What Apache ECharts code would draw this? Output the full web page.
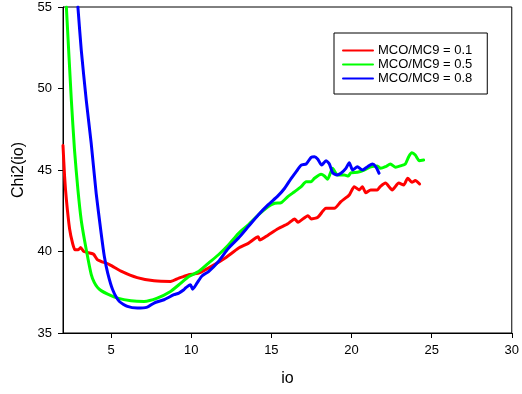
<!DOCTYPE html>
<html>
<head>
<meta charset="utf-8">
<script src="https://cdn.jsdelivr.net/npm/echarts@6/dist/echarts.min.js"></script>
<style>html,body{margin:0;padding:0;background:#fff}#c{width:522px;height:394px}</style>
</head>
<body>
<div id="c"></div>
<script>
const seriesNames = ['MCO/MC9 = 0.1', 'MCO/MC9 = 0.5', 'MCO/MC9 = 0.8'];
const xTicks = [5, 10, 15, 20, 25, 30];
const yTicks = [35, 40, 45, 50, 55];

const redIo  = [2.0, 2.1, 2.21, 2.41, 2.6, 2.75, 2.95, 3.1, 3.3, 3.9, 4.15, 4.9, 5.62, 6.63, 7.68, 8.71, 9.23, 9.54, 9.85, 10.46, 11.29, 12.12, 12.94, 13.56, 14.18, 14.28, 14.79, 15.41, 16.03, 16.45, 16.66, 17.28, 17.48, 17.9, 18.41, 18.93, 19.34, 19.86, 20.17, 20.48, 20.68, 20.89, 21.2, 21.61, 21.81, 22.12, 22.54, 22.95, 23.26, 23.51, 23.77, 23.98, 24.25];
const redChi = [46.5, 44.6, 43.2, 41.4, 40.5, 40.1, 40.1, 40.24, 40.0, 39.84, 39.5, 39.2, 38.8, 38.4, 38.2, 38.16, 38.37, 38.47, 38.57, 38.67, 39.1, 39.6, 40.2, 40.5, 40.9, 40.7, 41.0, 41.4, 41.7, 42.0, 41.8, 42.2, 42.0, 42.1, 42.65, 42.65, 43.06, 43.47, 43.98, 43.78, 43.98, 43.6, 43.78, 43.78, 44.0, 44.2, 43.78, 44.2, 44.08, 44.5, 44.25, 44.35, 44.14];

const greenIo  = [2.21, 2.52, 2.72, 2.93, 3.14, 3.34, 3.55, 3.76, 3.95, 4.15, 4.38, 4.79, 5.41, 6.24, 7.06, 7.88, 8.71, 9.23, 9.85, 10.46, 11.08, 11.7, 12.32, 12.94, 13.56, 14.18, 14.79, 15.21, 15.62, 16.03, 16.45, 16.86, 17.17, 17.48, 17.69, 18.1, 18.31, 18.51, 18.82, 19.13, 19.55, 19.8, 19.96, 20.37, 20.79, 21.2, 21.61, 21.81, 22.12, 22.43, 22.75, 23.05, 23.36, 23.57, 23.77, 23.98, 24.23, 24.5];
const greenChi = [55, 49.3, 46.2, 43.8, 41.9, 40.7, 39.6, 38.6, 38.1, 37.8, 37.6, 37.39, 37.14, 36.98, 36.94, 37.14, 37.55, 37.96, 38.47, 38.77, 39.29, 39.8, 40.4, 41.1, 41.63, 42.24, 42.75, 42.96, 43.0, 43.37, 43.67, 43.98, 44.28, 44.28, 44.49, 44.74, 44.63, 44.43, 45.1, 44.69, 44.69, 44.63, 44.83, 44.86, 45.0, 45.2, 45.25, 45.1, 45.2, 45.37, 45.17, 45.25, 45.37, 45.82, 46.06, 45.92, 45.57, 45.61];

const blueIo  = [2.93, 3.14, 3.45, 3.76, 4.07, 4.38, 4.58, 4.79, 5.1, 5.51, 6.02, 6.64, 7.26, 7.68, 8.3, 8.92, 9.23, 9.54, 9.64, 9.95, 10.09, 10.36, 10.67, 11.08, 11.7, 12.32, 12.94, 13.56, 14.18, 14.79, 15.41, 15.83, 16.24, 16.55, 16.86, 17.17, 17.48, 17.69, 17.9, 18.14, 18.41, 18.62, 18.82, 19.09, 19.34, 19.65, 19.86, 20.07, 20.37, 20.68, 21.0, 21.31, 21.51, 21.72];
const blueChi = [55, 52.35, 49.29, 46.63, 43.57, 41.12, 39.69, 38.67, 37.65, 36.94, 36.63, 36.53, 36.59, 36.84, 37.04, 37.35, 37.45, 37.65, 37.76, 37.96, 37.69, 38.06, 38.5, 38.77, 39.39, 40.2, 40.82, 41.53, 42.24, 42.86, 43.41, 43.88, 44.49, 44.9, 45.3, 45.37, 45.78, 45.82, 45.66, 45.3, 45.57, 45.37, 44.84, 44.69, 44.8, 45.1, 45.45, 45.0, 45.2, 45.0, 45.2, 45.37, 45.2, 44.8];

function pairs(xs, ys) { return xs.map((x, i) => [x, ys[i]]); }

const FONT = '"Liberation Sans", Arial, sans-serif';
const chart = echarts.init(document.getElementById('c'), null, { renderer: 'canvas' });
const mk = (name, xs, ys, color) => ({
  name, type: 'line', data: pairs(xs, ys), symbol: 'none', smooth: 0.2,
  lineStyle: { color, width: 3, join: 'round', cap: 'round' }, itemStyle: { color },
  clip: true, animation: false
});
chart.setOption({
  animation: false,
  backgroundColor: '#fff',
  grid: { left: 63, right: 6, top: 7, bottom: 61, show: true, borderColor: '#000', borderWidth: 1 },
  legend: {
    orient: 'vertical', left: 334, top: 33,
    padding: [11, 15, 9, 8],
    borderColor: '#000', borderWidth: 1,
    itemWidth: 30, itemHeight: 14, itemGap: 1,
    itemStyle: { opacity: 0 },
    textStyle: { fontSize: 13, fontFamily: FONT, color: '#000' },
    data: seriesNames
  },
  xAxis: {
    type: 'value', min: 2, max: 30,
    name: 'io', nameLocation: 'middle', nameGap: 38,
    nameTextStyle: { fontSize: 16, fontFamily: FONT, color: '#000' },
    axisLine: { lineStyle: { color: '#000', width: 1 } },
    axisTick: { length: 5, lineStyle: { color: '#000' }, customValues: xTicks },
    axisLabel: { fontSize: 13, fontFamily: FONT, color: '#000', margin: 11, customValues: xTicks },
    splitLine: { show: false }
  },
  yAxis: {
    type: 'value', min: 35, max: 55, interval: 5,
    name: 'Chi2(io)', nameLocation: 'middle', nameGap: 36,
    nameTextStyle: { fontSize: 16, fontFamily: FONT, color: '#000' },
    axisLine: { show: true, lineStyle: { color: '#000', width: 1 } },
    axisTick: { show: true, length: 5, lineStyle: { color: '#000' }, customValues: yTicks },
    axisLabel: { fontSize: 13, fontFamily: FONT, color: '#000', margin: 11, customValues: yTicks },
    splitLine: { show: false }
  },
  series: [
    mk(seriesNames[0], redIo, redChi, '#ff0000'),
    mk(seriesNames[1], greenIo, greenChi, '#00ff00'),
    mk(seriesNames[2], blueIo, blueChi, '#0000ff')
  ]
});
</script>
</body>
</html>
